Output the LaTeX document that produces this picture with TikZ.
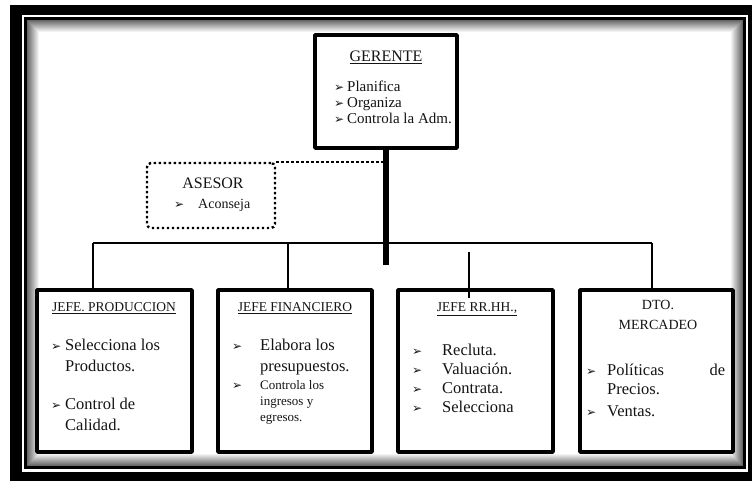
\documentclass[tikz,border=0pt]{standalone}
\usepackage{fontspec}
\setmainfont{Liberation Serif}
\newfontfamily\dejavu{DejaVu Sans}
\newcommand{\arr}{\raisebox{0pt}{\dejavu\fontsize{12pt}{12pt}\selectfont\char"27A2}}
\newcommand{\vi}[1]{\makebox[#1][l]{\arr}}
\usetikzlibrary{positioning}
\tikzset{
  cargo/.style={draw, line width=3.5pt, inner sep=0pt},
  asesorbox/.style={draw, line width=2.4pt, dash pattern=on 2.4pt off 2.6pt, rounded corners=4pt, inner sep=0pt},
  titulo/.style={inner sep=0pt, anchor=base, font=\fontsize{13.5pt}{16pt}\selectfont},
  lista/.style={inner sep=0pt, anchor=north west, align=left},
  linea/.style={line width=2.5pt}
}
\begin{document}
\begin{tikzpicture}[x=1pt, y=-1pt, line join=round, text=black!92,
  font=\fontsize{16.5pt}{21pt}\selectfont]
  \useasboundingbox (0,0) rectangle (752,481);
  % marco
  \fill[white] (0,0) rectangle (752,481);
  \fill[black] (10,5) rectangle (752,481);
  \fill[white] (22,15) rectangle (748,472);
  \fill[black] (24,17) rectangle (746,469);
  \foreach \d in {0,...,12}{
    \pgfmathsetmacro\g{int(max(0,60-5*\d))}
    \fill[black!\g] (27+\d,20+\d) rectangle (743-\d,466-\d);
  }
  % cajas
  \node[cargo, minimum width=142pt, minimum height=113pt] (gerente) at (386,91.5) {};
  \node[asesorbox, minimum width=128pt, minimum height=65pt] (asesor) at (211,195.5) {};
  \node[cargo, minimum width=155pt, minimum height=162pt] (prod) at (114.5,371) {};
  \node[cargo, minimum width=154pt, minimum height=162pt] (fin) at (295,371) {};
  \node[cargo, minimum width=155pt, minimum height=162pt] (rrhh) at (475.5,371) {};
  \node[cargo, minimum width=153pt, minimum height=162pt] (merc) at (656.5,371) {};
  % lineas
  \path (gerente.south) ++(0,115) coordinate (tronco);
  \coordinate (busL) at (93,243);
  \coordinate (busF) at (288,243);
  \coordinate (busR) at (652,243);
  \coordinate (rhA) at (469,252);
  \draw[line width=6pt] (gerente.south) -- (tronco);
  \draw[linea] (busL) -- (busR);
  \draw[linea] (busL) -- (busL |- prod.north);
  \draw[linea] (busF) -- (busF |- fin.north);
  \draw[linea] (busR) -- (busR |- merc.north);
  \draw[line width=2pt] (rhA) -- ([yshift=-10pt]rhA |- rrhh.north);
  \draw[line width=2.4pt, dash pattern=on 2.4pt off 2.6pt] (asesor.north east) -- (asesor.north east -| tronco);
  % textos
  \node[inner sep=0pt, anchor=base, font=\fontsize{16pt}{18pt}\selectfont] (gerenteT) at (386,62) {\underline{GERENTE}};
  \node[lista, font=\fontsize{15pt}{16pt}\selectfont] (gerenteL) at (334,81)
    {\vi{13pt}Planifica\\ \vi{13pt}Organiza\\ \vi{13pt}Controla la Adm.};
  \node[inner sep=0pt, font=\fontsize{16pt}{18pt}\selectfont] (asesorT) at (213,183) {ASESOR};
  \node[inner sep=0pt, anchor=west, font=\fontsize{14pt}{16pt}\selectfont] (asesorL) at (174,205) {\vi{24pt}Aconseja};

  \node[titulo] (prodT) at (114,311.5) {\underline{JEFE. PRODUCCION}};
  \node[lista] (prodL) at (51,339)
    {\vi{14pt}Selecciona los\\ \hspace*{14pt}Productos.\\[17pt] \vi{14pt}Control de\\ \hspace*{14pt}Calidad.};

  \node[titulo] (finT) at (295,311.5) {\underline{JEFE FINANCIERO}};
  \node[lista] (finL) at (232,339) {\vi{28pt}Elabora los\\ \hspace*{28pt}presupuestos.};
  \node[lista, font=\fontsize{13pt}{16pt}\selectfont] (finL2) at (232,380)
    {\vi{28pt}Controla los\\ \hspace*{28pt}ingresos y\\ \hspace*{28pt}egresos.};

  \node[titulo] (rrhhT) at (477,311.5) {\underline{JEFE RR.HH.,}};
  \node[lista, font=\fontsize{16.5pt}{19pt}\selectfont] (rrhhL) at (412,344)
    {\vi{30pt}Recluta.\\ \vi{30pt}Valuación.\\ \vi{30pt}Contrata.\\ \vi{30pt}Selecciona};

  \node[inner sep=0pt, align=center, font=\fontsize{14pt}{20pt}\selectfont] (mercT) at (658,315) {DTO.\\MERCADEO};
  \node[lista, font=\fontsize{16.5pt}{19pt}\selectfont] (mercL) at (586,364)
    {\vi{21pt}\makebox[118pt][l]{Políticas\hfill de}\\ \hspace*{21pt}Precios.\\[3pt] \vi{21pt}Ventas.};
\end{tikzpicture}
\end{document}
